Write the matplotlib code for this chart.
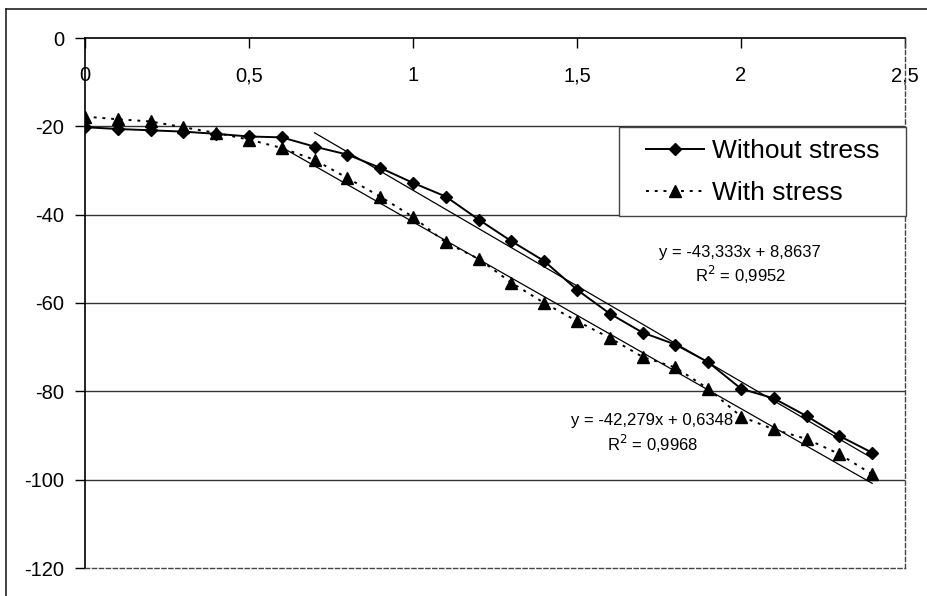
import matplotlib
matplotlib.use("Agg")
import matplotlib.pyplot as plt
from matplotlib.lines import Line2D
from matplotlib.patches import Rectangle
import numpy as np

plt.rcParams['font.family'] = ['Liberation Sans', 'DejaVu Sans']

x_values = [0.0, 0.1, 0.2, 0.3, 0.4, 0.5, 0.6, 0.7, 0.8, 0.9, 1.0, 1.1, 1.2,
            1.3, 1.4, 1.5, 1.6, 1.7, 1.8, 1.9, 2.0, 2.1, 2.2, 2.3, 2.4]
without_stress = [-20.2, -20.6, -20.9, -21.2, -21.7, -22.3, -22.5, -24.6, -26.4,
                  -29.4, -32.8, -35.9, -41.1, -46.0, -50.5, -57.0, -62.4, -66.7,
                  -69.4, -73.4, -79.4, -81.6, -85.6, -90.1, -93.9]
with_stress = [-17.8, -18.4, -18.9, -20.2, -21.5, -23.0, -24.9, -27.6, -31.7,
               -35.9, -40.5, -46.3, -50.0, -55.4, -60.0, -64.1, -67.9, -72.2,
               -74.6, -79.4, -85.7, -88.6, -90.8, -94.2, -98.8]
series_names = ["Without stress", "With stress"]

fit1_slope, fit1_icpt, fit1_range = -43.333, 8.8637, (0.7, 2.4)
fit2_slope, fit2_icpt, fit2_range = -42.279, 0.6348, (0.6, 2.4)
fit1_label = "y = -43,333x + 8,8637\nR$^2$ = 0,9952"
fit2_label = "y = -42,279x + 0,6348\nR$^2$ = 0,9968"

x_ticks = [0, 0.5, 1, 1.5, 2, 2.5]
x_tick_labels = ["0", "0,5", "1", "1,5", "2", "2,5"]
y_ticks = [0, -20, -40, -60, -80, -100, -120]
y_tick_labels = ["0", "-20", "-40", "-60", "-80", "-100", "-120"]

W, H = 927, 596
fig = plt.figure(figsize=(W / 100, H / 100), dpi=100)
L, R, T, B = 85, 905, 38, 568
ax = fig.add_axes([L / W, 1 - B / H, (R - L) / W, (B - T) / H])

def ax_frac(px, py):
    return ((px - L) / (R - L), 1 - (py - T) / (B - T))

# outer chart border (top and left visible)
fig.add_artist(Line2D([6 / W, 6 / W], [0, 1 - 9 / H], transform=fig.transFigure,
                      color='#222222', lw=1.2))
fig.add_artist(Line2D([6 / W, 1], [1 - 9 / H, 1 - 9 / H], transform=fig.transFigure,
                      color='#222222', lw=1.2))

ax.set_xlim(0, 2.5)
ax.set_ylim(-120, 0)

for yv in [-20, -40, -60, -80, -100]:
    ax.axhline(yv, color='#333333', lw=1.0, zorder=1)

# Series
ax.plot(x_values, without_stress, color='black', lw=1.4, marker='D', ms=6,
        markerfacecolor='black', label=series_names[0], zorder=4)
ax.plot(x_values, with_stress, color='black', lw=1.4, ls=(0, (1.5, 3)), marker='^', ms=8,
        markerfacecolor='black', label=series_names[1], zorder=4)

# Trendlines
xf1 = np.array(fit1_range)
ax.plot(xf1, fit1_slope * xf1 + fit1_icpt, color='black', lw=0.9, zorder=3)
xf2 = np.array(fit2_range)
ax.plot(xf2, fit2_slope * xf2 + fit2_icpt, color='black', lw=0.9, zorder=3)

ax.text(1.998, -51.5, fit1_label, ha='center', va='center', fontsize=12, linespacing=1.25)
ax.text(1.73, -89.7, fit2_label, ha='center', va='center', fontsize=12, linespacing=1.25)

# Spines
for s in ['left', 'top']:
    ax.spines[s].set_color('black')
    ax.spines[s].set_linewidth(1.2)
ax.spines['right'].set_color('#444444')
ax.spines['right'].set_linestyle((0, (3, 2)))
ax.spines['right'].set_linewidth(1.0)
ax.spines['bottom'].set_color('#444444')
ax.spines['bottom'].set_linestyle((0, (3, 2)))
ax.spines['bottom'].set_linewidth(1.0)

ax.xaxis.set_ticks_position('top')
ax.set_xticks(x_ticks)
ax.set_xticklabels(x_tick_labels, fontsize=14.5)
ax.tick_params(axis='x', direction='in', length=7, width=1.0, pad=-34,
               labeltop=True, labelbottom=False)
ax.set_yticks(y_ticks)
ax.set_yticklabels(y_tick_labels, fontsize=14.5)
ax.tick_params(axis='y', direction='out', length=7, width=1.0, pad=8)

# Legend box (frame drawn separately to match the wide padding)
x0, y0 = ax_frac(619, 216)
x1, y1 = ax_frac(906, 127)
ax.add_patch(Rectangle((x0, y0), x1 - x0, y1 - y0, transform=ax.transAxes,
                       facecolor='white', edgecolor='#444444', lw=1.0, zorder=5,
                       clip_on=False))
leg = ax.legend(loc='upper left', bbox_to_anchor=ax_frac(646, 139),
                fontsize=19, frameon=False, borderaxespad=0, borderpad=0,
                handlelength=2.2, handletextpad=0.3, labelspacing=0.68)
leg.set_zorder(6)

fig.savefig("out.png", dpi=100)
